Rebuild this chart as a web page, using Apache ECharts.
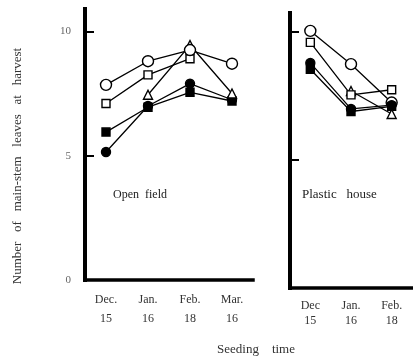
<!DOCTYPE html>
<html>
<head>
<meta charset="utf-8">
<script src="https://cdn.jsdelivr.net/npm/echarts@6/dist/echarts.min.js"></script>
<style>
  html, body { margin: 0; padding: 0; background: #fff; }
  #chart { width: 413px; height: 359px; }
</style>
</head>
<body>
<div id="chart"></div>
<script>
// seeding dates
const openFieldCats = ['Dec.\n15', 'Jan.\n16', 'Feb.\n18', 'Mar.\n16']
const houseCats = ['Dec\n15', 'Jan.\n16', 'Feb.\n18']
const yTickValues = [0, 5, 10]

// open field
const openCircleL = [7.85, 8.8, 9.25, 8.7]
const openSquareL = [7.1, 8.25, 8.9, null]
const openTriangleL = [null, 7.45, 9.45, 7.5]
const filledCircleL = [5.15, 7.0, 7.9, 7.25]
const filledSquareL = [5.95, 6.95, 7.55, 7.2]

// plastic house
const openCircleR = [10.05, 8.75, 7.25]
const openSquareR = [9.6, 7.55, 7.75]
const openTriangleR = [null, 7.7, 6.8]
const filledCircleR = [8.8, 7.0, 7.15]
const filledSquareR = [8.55, 6.9, 7.1]

const serif = 'Liberation Serif'

function line(data, symbol, size, filled, idx) {
  return {
    type: 'line',
    data: data,
    xAxisIndex: idx,
    yAxisIndex: idx,
    symbol: symbol,
    symbolSize: size,
    animation: false,
    lineStyle: { color: '#000', width: 1.3 },
    itemStyle: {
      color: filled ? '#000' : '#fff',
      borderColor: '#000',
      borderWidth: 1.4
    },
    emphasis: { disabled: true }
  }
}

function xAxis(cats, idx, lh) {
  return {
    type: 'category',
    gridIndex: idx,
    data: cats,
    boundaryGap: true,
    axisLine: { lineStyle: { color: '#000', width: 3.5, cap: 'square' } },
    axisTick: { inside: true, alignWithLabel: true, length: 7, lineStyle: { color: '#000', width: 2 } },
    axisLabel: { margin: 10, fontFamily: serif, fontSize: 12, lineHeight: lh, color: '#333' },
    splitLine: { show: false }
  }
}

function yAxis(idx, max, showLabel) {
  return {
    type: 'value',
    gridIndex: idx,
    min: 0,
    max: max,
    axisLine: { show: true, lineStyle: { color: '#000', width: 4, cap: 'square' } },
    axisTick: { show: true, inside: true, length: 9, customValues: [5, 10], lineStyle: { color: '#000', width: 2 } },
    axisLabel: { show: showLabel, customValues: yTickValues, margin: 14, fontFamily: serif, fontSize: 11, color: '#666' },
    splitLine: { show: false }
  }
}

const chart = echarts.init(document.getElementById('chart'))
chart.setOption({
  backgroundColor: '#fff',
  grid: [
    { left: 85, top: 9, width: 168, height: 271, outerBoundsMode: 'none' },
    { left: 290, top: 13, width: 122, height: 275, outerBoundsMode: 'none' }
  ],
  xAxis: [xAxis(openFieldCats, 0, 19), xAxis(houseCats, 1, 15)],
  yAxis: [yAxis(0, 10.9, true), yAxis(1, 10.75, false)],
  graphic: [
    {
      type: 'text', x: 18, y: 166, rotation: Math.PI / 2,
      style: { text: 'Number   of   main-stem   leaves   at   harvest', fontFamily: serif, fontSize: 13, fill: '#333', textAlign: 'center', textVerticalAlign: 'middle' }
    },
    {
      type: 'text', x: 113, y: 195,
      style: { text: 'Open  field', fontFamily: serif, fontSize: 12, fill: '#222', textVerticalAlign: 'middle' }
    },
    {
      type: 'text', x: 302, y: 195,
      style: { text: 'Plastic   house', fontFamily: serif, fontSize: 13, fill: '#222', textVerticalAlign: 'middle' }
    },
    {
      type: 'text', x: 256, y: 350,
      style: { text: 'Seeding    time', fontFamily: serif, fontSize: 13, fill: '#333', textAlign: 'center', textVerticalAlign: 'middle' }
    }
  ],
  series: [
    line(filledCircleL, 'circle', 9, true, 0),
    line(filledSquareL, 'rect', 8, true, 0),
    line(openTriangleL, 'triangle', 9, false, 0),
    line(openSquareL, 'rect', 8, false, 0),
    line(openCircleL, 'circle', 11, false, 0),
    line(openCircleR, 'circle', 11, false, 1),
    line(filledCircleR, 'circle', 9, true, 1),
    line(filledSquareR, 'rect', 8, true, 1),
    line(openTriangleR, 'triangle', 9, false, 1),
    line(openSquareR, 'rect', 8, false, 1)
  ]
})
</script>
</body>
</html>
